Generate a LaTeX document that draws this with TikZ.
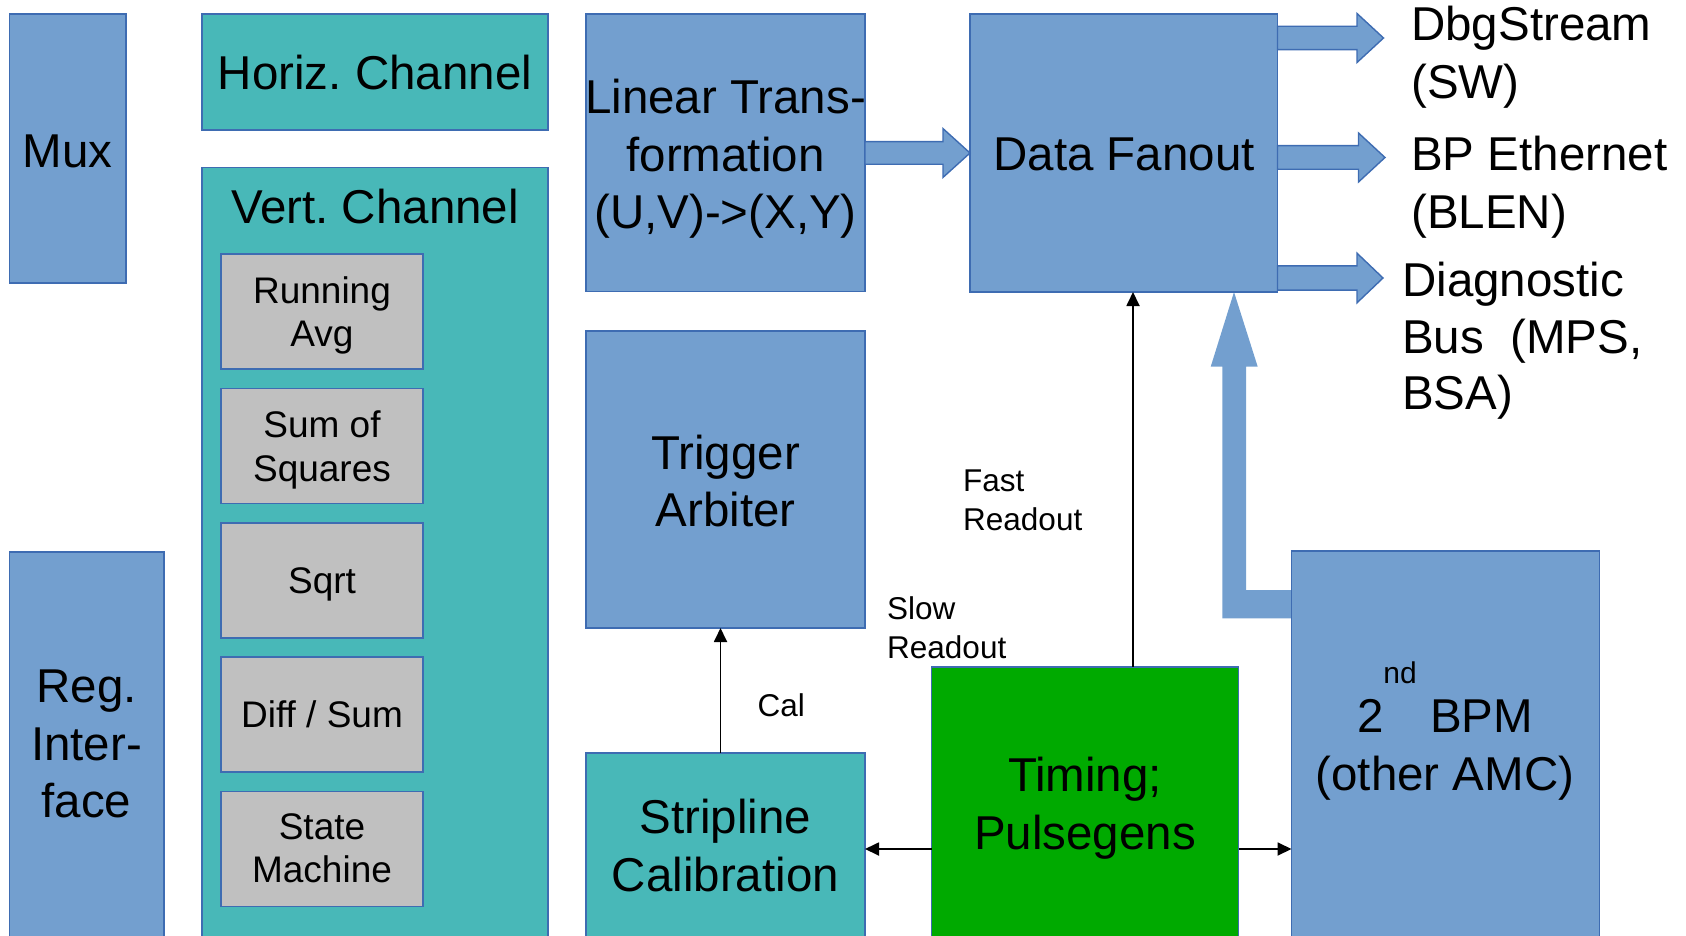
\documentclass[tikz,border=0pt]{standalone}
\usepackage{fontspec}
\setmainfont{Liberation Sans}
\usetikzlibrary{arrows.meta,calc}
\definecolor{boxblue}{RGB}{115,159,207}
\definecolor{edgeblue}{RGB}{62,108,178}
\definecolor{boxteal}{RGB}{72,184,184}
\definecolor{boxgray}{RGB}{192,192,192}
\definecolor{boxgreen}{RGB}{0,170,0}

% horizontal block arrow: tail point, tip point, shaft half width, head half width, head length
\newcommand\hfat[5]{%
  \draw[fatarrow] let \p1=(#1), \p2=(#2) in
    (\x1,\y2+#3) -- (\x2-#5,\y2+#3) -- (\x2-#5,\y2+#4) -- (\x2,\y2)
    -- (\x2-#5,\y2-#4) -- (\x2-#5,\y2-#3) -- (\x1,\y2-#3) -- cycle;}

\begin{document}
\frenchspacing
\begin{tikzpicture}[x=1pt,y=-1pt,
  blk/.style={draw=edgeblue, line width=1.6pt, inner sep=0pt, outer sep=0pt, anchor=north west},
  bluebox/.style={blk, fill=boxblue},
  tealbox/.style={blk, fill=boxteal},
  graybox/.style={blk, fill=boxgray},
  greenbox/.style={blk, fill=boxgreen},
  big/.style={font=\fontsize{47.5}{57.5}\selectfont, align=center, inner sep=0pt},
  mid/.style={font=\fontsize{37}{43.4}\selectfont, align=center, inner sep=0pt},
  small/.style={font=\fontsize{31.5}{38.7}\selectfont, align=left, inner sep=0pt},
  side/.style={font=\fontsize{47.5}{58}\selectfont, align=left, inner sep=0pt, anchor=west},
  wire/.style={line width=1.8pt, -{Triangle[length=14pt,width=13pt]}},
  fatarrow/.style={fill=boxblue, draw=edgeblue, line width=1.4pt, line join=miter},
  bentarrow/.style={fill=boxblue, draw=none},
]
\useasboundingbox (0,0) rectangle (1686,936);

% bent feed from the second BPM up into the fanout
\draw[bentarrow] (1291.5,590) -- (1246,590) -- (1246,366.7) -- (1257.7,366.7)
  -- (1234,292) -- (1210.7,366.7) -- (1222.3,366.7) -- (1222.3,618.3)
  -- (1291.5,618.3) -- cycle;

% left column
\node[bluebox, minimum width=116.5pt, minimum height=269pt] (mux) at (9.3,14) {};
\node[bluebox, minimum width=154.5pt, minimum height=400pt] (reg) at (9.3,552) {};

% channel blocks
\node[tealbox, minimum width=346pt, minimum height=116pt] (horiz) at (202,14) {};
\node[tealbox, minimum width=346pt, minimum height=780pt] (vert) at (202,167.5) {};
\node[graybox, minimum width=202pt, minimum height=115pt] (ravg) at (221,254) {};
\node[graybox, minimum width=202pt, minimum height=115pt] (sumsq) at (221,388.5) {};
\node[graybox, minimum width=202pt, minimum height=115pt] (sqrt) at (221,523) {};
\node[graybox, minimum width=202pt, minimum height=115pt] (diff) at (221,657) {};
\node[graybox, minimum width=202pt, minimum height=115pt] (fsm) at (221,791.5) {};

% middle column
\node[bluebox, minimum width=279pt, minimum height=277.5pt] (lin) at (586,14) {};
\node[bluebox, minimum width=279pt, minimum height=297pt] (trig) at (586,331) {};
\node[tealbox, minimum width=279pt, minimum height=200pt] (strip) at (586,753) {};

% right side
\node[bluebox, minimum width=307.5pt, minimum height=278pt] (fanout) at (970,14) {};
\node[greenbox, minimum width=307pt, minimum height=290pt] (timing) at (931.5,667) {};
\node[bluebox, minimum width=308pt, minimum height=400pt] (bpm) at (1291.5,551) {};

% block texts
\node[big] (mux-t) at (67.6,151) {Mux};
\node[big] (reg-t) at (86.5,744) {Reg.\\Inter-\\face};
\node[big] (horiz-t) at (375,73) {Horiz. Channel};
\node[big] (vert-t) at (375,206.9) {Vert. Channel};
\node[mid] (ravg-t) at (322,315.6) {Running\\Avg};
\node[mid] (sumsq-t) at (322,449.9) {Sum of\\Squares};
\node[mid] (sqrt-t) at (322,584) {Sqrt};
\node[mid] (diff-t) at (322,714.5) {Diff / Sum};
\node[mid] (fsm-t) at (322,848.5) {State\\Machine};
\node[big] (lin-t) at (725.5,158.9) {Linear Trans-\\formation\\(U,V)->(X,Y)};
\node[big] (trig-t) at (725.5,480.8) {Trigger\\Arbiter};
\node[big] (strip-t) at (725.5,845.4) {Stripline\\Calibration};
\node[big] (fanout-t) at (1124,154.2) {Data Fanout};
\node[big] (timing-t) at (1085,808.1) {Timing;\\Pulsegens};
\node[big] (bpm-t) at (1445,731) {2\raisebox{49pt}{\fontsize{30}{30}\selectfont nd} BPM\\(other AMC)};

% outputs of the fanout
\coordinate (dbgtip) at (1383.5,38);
\coordinate (blentip) at (1385,157.5);
\coordinate (diagtip) at (1383,278);
\hfat{lin.east}{fanout.west}{11.3pt}{24.4pt}{27pt}
\hfat{fanout.east |- dbgtip}{dbgtip}{11.7pt}{24.5pt}{26.5pt}
\hfat{fanout.east |- blentip}{blentip}{11.8pt}{24.5pt}{26.5pt}
\hfat{fanout.east |- diagtip}{diagtip}{12.1pt}{24.8pt}{26pt}

\node[side] (dbg-t) at (1411,56.8) {DbgStream\\(SW)};
\node[side] (blen-t) at (1411,186.8) {BP Ethernet\\(BLEN)};
\node[side, font=\fontsize{47.5}{56.5}\selectfont] (diag-t) at (1402,341) {Diagnostic\\Bus\ \ (MPS,\\BSA)};

% signal connections
\coordinate (calx) at (720.5,0);
\coordinate (fastx) at (1133,0);
\coordinate (sidey) at (0,849);
\draw[wire] (strip.north -| calx) -- (trig.south -| calx);
\draw[wire] (timing.north -| fastx) -- (fanout.south -| fastx);
\draw[wire] (timing.west |- sidey) -- (strip.east |- sidey);
\draw[wire] (timing.east |- sidey) -- (bpm.west |- sidey);

\node[small, anchor=west] (fast-t) at (963,500.4) {Fast\\Readout};
\node[small, anchor=west] (slow-t) at (887,628) {Slow\\Readout};
\node[small, anchor=base west] (cal-t) at (757.5,716.7) {Cal};
\end{tikzpicture}
\end{document}
